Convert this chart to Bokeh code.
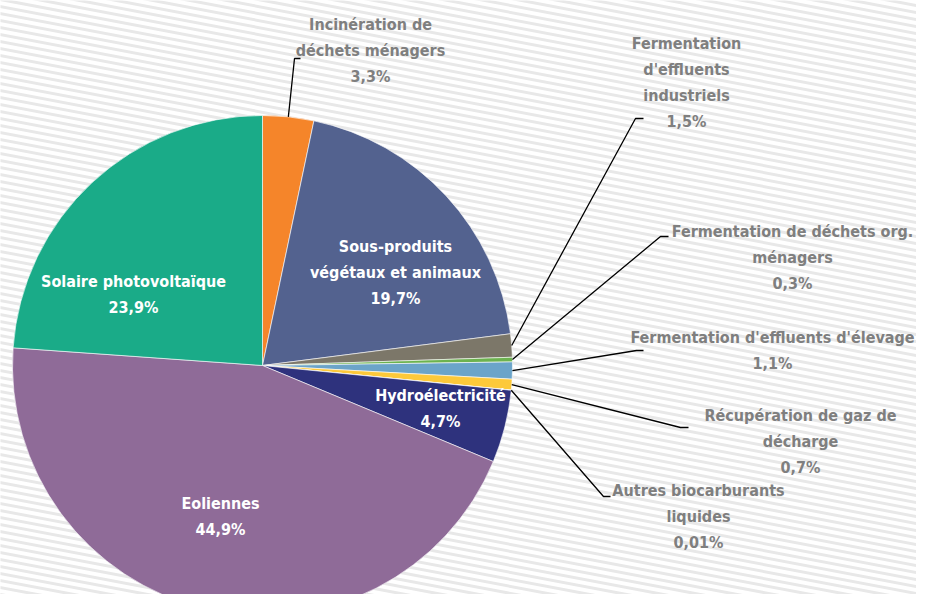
import numpy as np
from bokeh.plotting import figure
from bokeh.models import Range1d, ColumnDataSource
from bokeh.core.properties import value
from bokeh.embed import file_html
from bokeh.resources import INLINE

# ---------------- data ----------------
categories = [
    "Incinération de déchets ménagers",
    "Sous-produits végétaux et animaux",
    "Fermentation d'effluents industriels",
    "Fermentation de déchets org. ménagers",
    "Fermentation d'effluents d'élevage",
    "Récupération de gaz de décharge",
    "Autres biocarburants liquides",
    "Hydroélectricité",
    "Eoliennes",
    "Solaire photovoltaïque",
]
shares = [3.3, 19.7, 1.5, 0.3, 1.1, 0.7, 0.01, 4.7, 44.9, 23.9]
share_labels = ["3,3%", "19,7%", "1,5%", "0,3%", "1,1%", "0,7%", "0,01%", "4,7%", "44,9%", "23,9%"]
label_names = [
    "Incinération de\ndéchets ménagers",
    "Sous-produits\nvégétaux et animaux",
    "Fermentation\nd'effluents\nindustriels",
    "Fermentation de déchets org.\nménagers",
    "Fermentation d'effluents d'élevage",
    "Récupération de gaz de\ndécharge",
    "Autres biocarburants\nliquides",
    "Hydroélectricité",
    "Eoliennes",
    "Solaire photovoltaïque",
]
colors = ["#f5852a", "#53628f", "#7c7769", "#6cb24f", "#6ba4c9",
          "#fdc93a", "#c9c9c9", "#2e327d", "#8f6b98", "#1aab88"]

# ---------------- layout (reference pixel coordinates, y down) ----------------
W, H = 916, 594
CX, CY, R = 262, 365, 250
inside = [False, True, False, False, False, False, False, True, True, True]
label_pos = [(370, 50), (395, 272), (686, 82), (792, 257), (772, 350),
             (800, 441), (698, 516), (440, 408), (220, 516), (133, 294)]
elbows = [((294, 58), (300, 58)), None, ((635, 118), (643, 118)),
          ((660, 236), (668, 236)), ((636, 350), (643, 350)),
          ((680, 427), (688, 427)), ((603, 496), (610, 496)), None, None, None]

def fy(y):
    return H - y

p = figure(width=W, height=H, output_backend="svg", toolbar_location=None,
           x_range=Range1d(0, W), y_range=Range1d(0, H),
           min_border=0, outline_line_color=None, background_fill_color="white",
           border_fill_color="white")
p.axis.visible = False
p.grid.visible = False

# background stripes
cs = np.arange(-260, 640, 7)
x0 = np.full(len(cs), -10.0)
x1 = np.full(len(cs), 950.0)
slope = 0.19
p.segment(x0=x0, y0=[fy(c + slope * -10) for c in cs], x1=x1,
          y1=[fy(c + slope * 950) for c in cs], line_color="#e8e8e8", line_width=3)

# pie
vals = np.array(shares, dtype=float)
frac = vals / vals.sum()
cum = np.concatenate([[0], np.cumsum(frac)])
start = np.pi / 2 - cum[1:] * 2 * np.pi
end = np.pi / 2 - cum[:-1] * 2 * np.pi
src = ColumnDataSource(dict(start=start, end=end, color=colors, cat=categories))
p.wedge(x=CX, y=fy(CY), radius=R, start_angle="start", end_angle="end",
        direction="anticlock", fill_color="color", line_color="white",
        line_width=0.6, source=src)

# leader lines
mid = (cum[:-1] + cum[1:]) / 2 * 2 * np.pi  # clockwise from top
xs, ys = [], []
for i, e in enumerate(elbows):
    if e is None:
        continue
    sx = CX + R * np.sin(mid[i])
    sy = CY - R * np.cos(mid[i])
    xs.append([sx, e[0][0], e[1][0]])
    ys.append([fy(sy), fy(e[0][1]), fy(e[1][1])])
p.multi_line(xs=xs, ys=ys, line_color="black", line_width=1.3)

# labels
font = value("DejaVu Sans Condensed")
for inner, col in ((True, "white"), (False, "#7f7f7f")):
    idx = [i for i in range(len(categories)) if inside[i] == inner]
    p.text(x=[label_pos[i][0] for i in idx], y=[fy(label_pos[i][1]) for i in idx],
           text=[label_names[i] + "\n" + share_labels[i] for i in idx],
           text_font=font, text_font_style="bold", text_font_size="16px",
           text_color=col, text_align="center", text_baseline="middle",
           text_line_height=1.38)

open("out.html", "w").write(file_html(p, INLINE))
